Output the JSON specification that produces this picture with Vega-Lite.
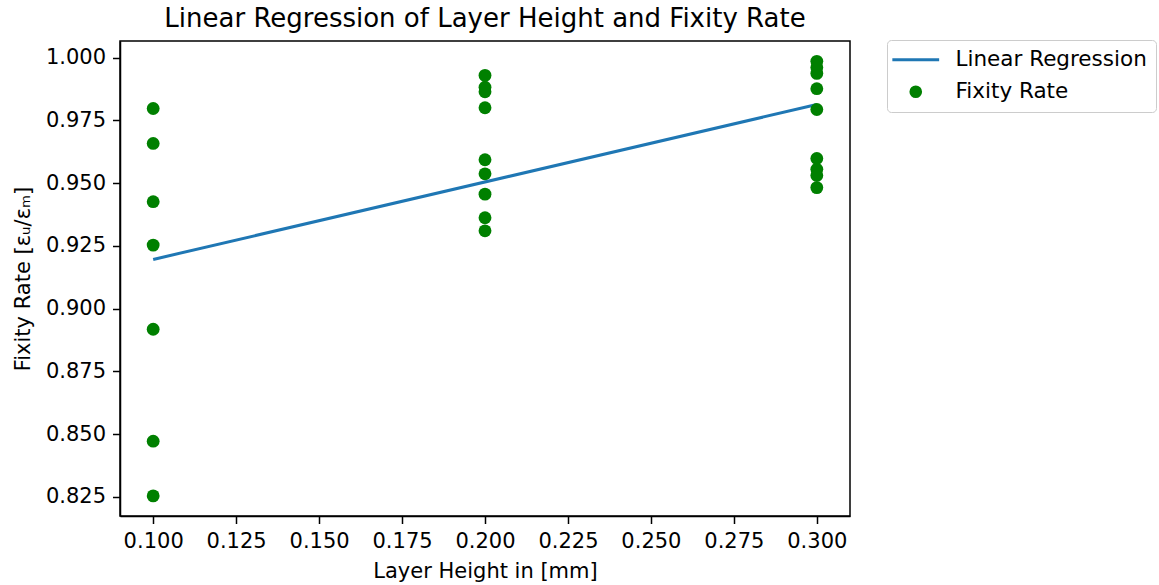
{
  "$schema": "https://vega.github.io/schema/vega-lite/v6.json",
  "autosize": "none",
  "width": 730,
  "height": 475,
  "padding": {"left": 120, "top": 41, "right": 309, "bottom": 69},
  "background": "white",
  "title": {
    "text": "Linear Regression of Layer Height and Fixity Rate",
    "font": "DejaVu Sans",
    "fontSize": 26,
    "fontWeight": "normal",
    "color": "black",
    "anchor": "middle",
    "offset": 8
  },
  "datasets": {
    "samples": [
      {"layer_height": 0.1, "fixity": 0.9797, "series": "Fixity Rate"},
      {"layer_height": 0.1, "fixity": 0.9658, "series": "Fixity Rate"},
      {"layer_height": 0.1, "fixity": 0.9426, "series": "Fixity Rate"},
      {"layer_height": 0.1, "fixity": 0.9253, "series": "Fixity Rate"},
      {"layer_height": 0.1, "fixity": 0.8918, "series": "Fixity Rate"},
      {"layer_height": 0.1, "fixity": 0.8472, "series": "Fixity Rate"},
      {"layer_height": 0.1, "fixity": 0.8254, "series": "Fixity Rate"},
      {"layer_height": 0.2, "fixity": 0.9929, "series": "Fixity Rate"},
      {"layer_height": 0.2, "fixity": 0.9882, "series": "Fixity Rate"},
      {"layer_height": 0.2, "fixity": 0.9864, "series": "Fixity Rate"},
      {"layer_height": 0.2, "fixity": 0.9800, "series": "Fixity Rate"},
      {"layer_height": 0.2, "fixity": 0.9593, "series": "Fixity Rate"},
      {"layer_height": 0.2, "fixity": 0.9537, "series": "Fixity Rate"},
      {"layer_height": 0.2, "fixity": 0.9456, "series": "Fixity Rate"},
      {"layer_height": 0.2, "fixity": 0.9362, "series": "Fixity Rate"},
      {"layer_height": 0.2, "fixity": 0.9310, "series": "Fixity Rate"},
      {"layer_height": 0.3, "fixity": 0.9985, "series": "Fixity Rate"},
      {"layer_height": 0.3, "fixity": 0.9960, "series": "Fixity Rate"},
      {"layer_height": 0.3, "fixity": 0.9937, "series": "Fixity Rate"},
      {"layer_height": 0.3, "fixity": 0.9876, "series": "Fixity Rate"},
      {"layer_height": 0.3, "fixity": 0.9793, "series": "Fixity Rate"},
      {"layer_height": 0.3, "fixity": 0.9598, "series": "Fixity Rate"},
      {"layer_height": 0.3, "fixity": 0.9555, "series": "Fixity Rate"},
      {"layer_height": 0.3, "fixity": 0.9530, "series": "Fixity Rate"},
      {"layer_height": 0.3, "fixity": 0.9482, "series": "Fixity Rate"}
    ],
    "fit": [
      {"layer_height": 0.1, "fixity": 0.9196},
      {"layer_height": 0.3, "fixity": 0.9813}
    ]
  },
  "config": {
    "font": "DejaVu Sans",
    "view": {"stroke": "black", "strokeWidth": 1.5},
    "axis": {
      "grid": false,
      "domainColor": "black",
      "domainWidth": 1.5,
      "tickColor": "black",
      "tickWidth": 1.5,
      "tickSize": 7.5,
      "labelFont": "DejaVu Sans",
      "labelFontSize": 21,
      "labelColor": "black",
      "titleFont": "DejaVu Sans",
      "titleFontSize": 21,
      "titleFontWeight": "normal",
      "titleColor": "black"
    },
    "legend": {
      "labelFont": "DejaVu Sans",
      "labelFontSize": 21.5,
      "labelColor": "black",
      "labelLimit": 0
    }
  },
  "layer": [
    {
      "data": {"name": "fit"},
      "mark": {"type": "line", "stroke": "#1f77b4", "strokeWidth": 3},
      "encoding": {
        "x": {"field": "layer_height", "type": "quantitative"},
        "y": {"field": "fixity", "type": "quantitative"}
      }
    },
    {
      "data": {"name": "samples"},
      "mark": {"type": "point", "filled": true, "opacity": 1, "strokeWidth": 0, "size": 165},
      "encoding": {
        "x": {
          "field": "layer_height",
          "type": "quantitative",
          "title": "Layer Height in [mm]",
          "scale": {"domain": [0.09, 0.31], "nice": false, "zero": false},
          "axis": {
            "values": [0.1, 0.125, 0.15, 0.175, 0.2, 0.225, 0.25, 0.275, 0.3],
            "format": ".3f",
            "labelPadding": 7,
            "titlePadding": 9,
            "labelFlush": false,
            "labelOverlap": false
          }
        },
        "y": {
          "field": "fixity",
          "type": "quantitative",
          "title": "Fixity Rate [εᵤ/εₘ]",
          "scale": {"domain": [0.8174, 1.0066], "nice": false, "zero": false},
          "axis": {
            "values": [0.825, 0.85, 0.875, 0.9, 0.925, 0.95, 0.975, 1.0],
            "format": ".3f",
            "labelPadding": 7,
            "titlePadding": 12,
            "labelFlush": false,
            "labelOverlap": false
          }
        },
        "color": {
          "field": "series",
          "type": "nominal",
          "scale": {"domain": ["Linear Regression", "Fixity Rate"], "range": ["#1f77b4", "green"]},
          "legend": {
            "title": null,
            "orient": "none",
            "legendX": 767,
            "legendY": -1,
            "direction": "vertical",
            "strokeColor": "#cccccc",
            "fillColor": "white",
            "cornerRadius": 4,
            "padding": 9,
            "rowPadding": 9,
            "symbolOffset": 9,
            "labelOffset": 29,
            "labelLimit": 0,
            "symbolSize": 160,
            "symbolStrokeWidth": 0,
            "symbolOpacity": 1
          }
        },
        "shape": {
          "field": "series",
          "type": "nominal",
          "scale": {"domain": ["Linear Regression", "Fixity Rate"], "range": ["M-3.7,-0.24H3.7V0.24H-3.7Z", "circle"]},
          "legend": {
            "title": null,
            "orient": "none",
            "legendX": 767,
            "legendY": -1
          }
        }
      }
    }
  ]
}
